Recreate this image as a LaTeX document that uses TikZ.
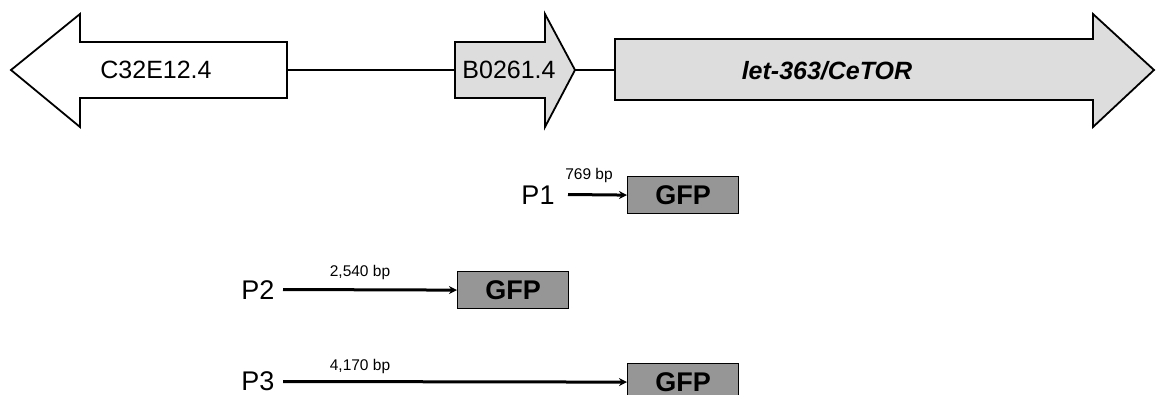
\documentclass[tikz,border=0pt]{standalone}
\usepackage{fontspec}
\setmainfont{Liberation Sans}
\usetikzlibrary{arrows.meta}
\definecolor{genefill}{HTML}{DDDDDD}
\definecolor{gfpfill}{HTML}{969696}
\begin{document}
\begin{tikzpicture}[x=1pt,y=-1pt,
  geneline/.style={line width=1.8pt,line join=miter},
  link/.style={line width=1.5pt},
  genelabel/.style={inner sep=0pt,font=\fontsize{25}{30}\selectfont},
  plabel/.style={inner sep=0pt,font=\fontsize{27}{32}\selectfont},
  bplabel/.style={inner sep=0pt,font=\fontsize{15.5}{18}\selectfont},
  gfpbox/.style={draw,line width=1.2pt,fill=gfpfill,minimum width=111pt,minimum height=37pt,inner sep=0pt,anchor=north west,font=\fontsize{27}{32}\selectfont\bfseries},
  prom/.style={line width=3pt,-{Stealth[length=8pt,width=8pt]}}]
\useasboundingbox (0,0) rectangle (1157,394);
% genes
\draw[geneline,fill=white] (287,42) -- (80,42) -- (80,14) -- (11,70) -- (80,127) -- (80,98) -- (287,98) -- cycle;
\draw[geneline,fill=genefill] (455,42) -- (545,42) -- (545,14) -- (575,70) -- (545,127) -- (545,98) -- (455,98) -- cycle;
\draw[geneline,fill=genefill] (615,39) -- (1093,39) -- (1093,14) -- (1154,70) -- (1093,127) -- (1093,100) -- (615,100) -- cycle;
\coordinate (c32r) at (287,70);
\coordinate (b02l) at (455,70);
\coordinate (b02r) at (575,70);
\coordinate (letl) at (615,70);
\draw[link] (c32r) -- (b02l);
\draw[link] (b02r) -- (letl);
\node[genelabel] (c32) at (156,70) {C32E12.4};
\node[genelabel] (b02) at (509,70) {B0261.4};
\node[genelabel,font=\fontsize{25}{30}\selectfont\bfseries\itshape] (let) at (827,71) {let-363/CeTOR};
% constructs
\node[gfpbox] (g1) at (627,176) {GFP};
\node[gfpbox] (g2) at (457,271) {GFP};
\node[gfpbox] (g3) at (627,363) {GFP};
\node[plabel] (p1) at (538,195) {P1};
\node[plabel] (p2) at (258,290) {P2};
\node[plabel] (p3) at (258,381) {P3};
\coordinate (s1) at (568,194.5);
\coordinate (s2) at (283,289.5);
\coordinate (s3) at (283,381.5);
\draw[prom] (s1) -- (g1.west);
\draw[prom] (s2) -- (g2.west);
\draw[prom] (s3) -- (g3.west);
\node[bplabel] (b1) at (589,175) {769 bp};
\node[bplabel] (b2) at (360,272) {2,540 bp};
\node[bplabel] (b3) at (360,366) {4,170 bp};
\end{tikzpicture}
\end{document}
